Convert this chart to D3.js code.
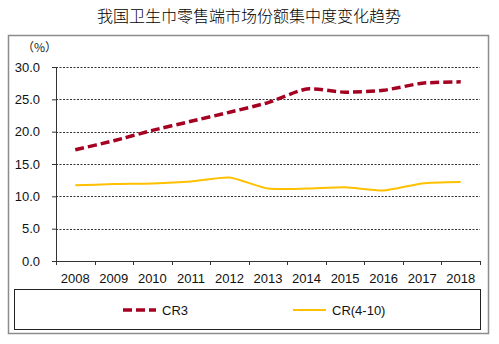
<!DOCTYPE html>
<html>
<head>
<meta charset="utf-8">
<script src="https://cdn.jsdelivr.net/npm/d3@7"></script>
<style>
  body { margin: 0; background: #fff; }
  svg text { font-family: "Liberation Sans Narrow", "Arial Narrow", "Liberation Sans", Arial, sans-serif; }
</style>
</head>
<body>
<div id="chart"></div>
<script>
const years = ["2008","2009","2010","2011","2012","2013","2014","2015","2016","2017","2018"];
const cr3 = [17.2, 18.6, 20.2, 21.6, 23.0, 24.5, 26.6, 26.1, 26.4, 27.5, 27.7];
const cr410 = [11.7, 11.9, 12.0, 12.3, 12.9, 11.2, 11.2, 11.4, 10.9, 12.0, 12.2];
const yTicks = [0, 5, 10, 15, 20, 25, 30];
const seriesNames = ["CR3", "CR(4-10)"];

const W = 499, H = 344;
const MARGIN = { TOP: 67, BOTTOM: 83, LEFT: 56, RIGHT: 19 };
const WIDTH = W - MARGIN.LEFT - MARGIN.RIGHT;
const HEIGHT = H - MARGIN.TOP - MARGIN.BOTTOM;

const svg = d3.select("#chart").append("svg")
    .attr("width", W)
    .attr("height", H);

// title
svg.append("text")
    .attr("x", 249)
    .attr("y", 22)
    .attr("text-anchor", "middle")
    .style("font-family", "'Noto Sans CJK SC', sans-serif")
    .style("font-size", "16px")
    .style("font-weight", 300)
    .attr("fill", "#000")
    .text("我国卫生巾零售端市场份额集中度变化趋势");

// outer frame
svg.append("rect")
    .attr("x", 8.5).attr("y", 35.5)
    .attr("width", 480).attr("height", 298)
    .attr("fill", "none")
    .attr("stroke", "#8c8c8c")
    .attr("stroke-width", 1.5);

svg.append("text")
    .attr("x", 22).attr("y", 52)
    .style("font-family", "'Noto Sans CJK SC', sans-serif")
    .style("font-size", "12px")
    .attr("fill", "#222")
    .text("（%）");

const g = svg.append("g")
    .attr("transform", `translate(${MARGIN.LEFT}, ${MARGIN.TOP})`);

const x = d3.scaleBand().domain(years).range([0, WIDTH]);
const y = d3.scaleLinear().domain([0, 30]).range([HEIGHT, 0]);

// grid lines
g.selectAll(".grid")
  .data(yTicks.filter(d => d > 0))
  .enter().append("line")
    .attr("x1", 0).attr("x2", WIDTH)
    .attr("y1", d => Math.round(y(d)) + 0.5)
    .attr("y2", d => Math.round(y(d)) + 0.5)
    .attr("stroke", "#333")
    .attr("stroke-width", 1)
    .attr("stroke-dasharray", "2,1.5");

// y axis
const yAxis = g.append("g")
    .call(d3.axisLeft(y).tickValues(yTicks).tickFormat(d3.format(".1f")).tickSize(4).tickPadding(12));
yAxis.select(".domain").attr("stroke", "#333");
yAxis.selectAll(".tick line").attr("stroke", "#333");
yAxis.selectAll("text").style("font-size", "13px").attr("fill", "#111");

// x axis
const xAxisG = g.append("g")
    .attr("transform", `translate(0, ${HEIGHT})`)
    .call(d3.axisBottom(x).tickSize(0).tickPadding(13));
xAxisG.select(".domain").attr("stroke", "#333");
xAxisG.selectAll("text").style("font-size", "13px").attr("fill", "#111");
// tick marks at category boundaries
xAxisG.selectAll(".bnd")
  .data(years.concat(["end"]))
  .enter().append("line")
    .attr("x1", (d, i) => Math.round(i * x.step()) + 0.5)
    .attr("x2", (d, i) => Math.round(i * x.step()) + 0.5)
    .attr("y1", 0).attr("y2", 4)
    .attr("stroke", "#333");

const line = d3.line()
    .x((d, i) => x(years[i]) + x.bandwidth() / 2)
    .y(d => y(d))
    .curve(d3.curveCardinal.tension(0.4));

g.append("path")
    .datum(cr410)
    .attr("d", line)
    .attr("fill", "none")
    .attr("stroke", "#ffc000")
    .attr("stroke-width", 2);

g.append("path")
    .datum(cr3)
    .attr("d", line)
    .attr("fill", "none")
    .attr("stroke", "#a50021")
    .attr("stroke-width", 3.5)
    .attr("stroke-dasharray", "9,4");

// legend
const legend = svg.append("g");
legend.append("rect")
    .attr("x", 14.5).attr("y", 289.5)
    .attr("width", 466).attr("height", 40)
    .attr("fill", "none")
    .attr("stroke", "#222")
    .attr("stroke-width", 1);

const legendItems = [
  { name: seriesNames[0], x: 123, color: "#a50021", width: 3.5, dash: "9,4" },
  { name: seriesNames[1], x: 293, color: "#ffc000", width: 2, dash: null }
];
legendItems.forEach(it => {
  legend.append("line")
      .attr("x1", it.x).attr("x2", it.x + 33)
      .attr("y1", 310).attr("y2", 310)
      .attr("stroke", it.color)
      .attr("stroke-width", it.width)
      .attr("stroke-dasharray", it.dash);
  legend.append("text")
      .attr("x", it.x + 39).attr("y", 314.5)
      .style("font-size", "13px")
      .attr("fill", "#111")
      .text(it.name);
});
</script>
</body>
</html>
